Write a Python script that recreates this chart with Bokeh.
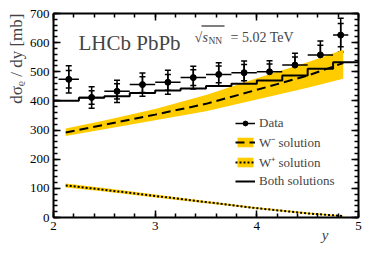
import numpy as np
from math import pi
from bokeh.plotting import figure
from bokeh.models import (ColumnDataSource, Whisker, TeeHead, Legend, LegendItem, Label, Title,
                          LinearAxis, Range1d, BoxAnnotation, SingleIntervalTicker,
                          CustomJSTickFormatter)
from bokeh.embed import file_html
from bokeh.resources import INLINE

# ---- data ----
rap_center = [2.15, 2.375, 2.625, 2.875, 3.125, 3.375, 3.625, 3.875, 4.125, 4.375, 4.625, 4.825]
rap_lo = [2.05, 2.25, 2.5, 2.75, 3.0, 3.25, 3.5, 3.75, 4.0, 4.25, 4.5, 4.75]
rap_hi = [2.25, 2.5, 2.75, 3.0, 3.25, 3.5, 3.75, 4.0, 4.25, 4.5, 4.75, 4.9]
xsec = [474, 412, 433, 456, 464, 480, 491, 497, 500, 523, 558, 626]
stat_err = [30, 23, 26, 27, 27, 27, 29, 28, 27, 28, 33, 40]
tot_err = [47, 37, 38, 40, 41, 39, 40, 40, 38, 41, 48, 58]

hist_edges = [2.0, 2.25, 2.5, 2.75, 3.0, 3.25, 3.5, 3.75, 4.0, 4.25, 4.5, 4.75, 5.0]
both_sol = [401, 411, 416, 427, 436, 443, 451, 459, 470, 487, 510, 533]

model_rap = [2.12, 2.5, 3.0, 3.5, 4.0, 4.5, 4.85]
wminus_c = [292, 318, 353, 390, 438, 487, 530]
wminus_hi = [305, 333, 372, 420, 478, 533, 576]
wminus_lo = [280, 303, 334, 365, 405, 445, 476]
wplus_c = [110, 95, 74, 53, 32, 14, 5]
wplus_hi = [117, 101, 79, 57, 35, 17, 7]
wplus_lo = [103, 89, 69, 49, 29, 11, 3]

YELLOW = "#FFCC00"
FONT = "Liberation Serif"

p = figure(width=370, height=250, x_range=Range1d(2, 5), y_range=Range1d(0, 700),
           output_backend="svg", toolbar_location=None,
           min_border_left=53, min_border_right=12, min_border_top=13, min_border_bottom=33)
p.grid.visible = False
p.outline_line_color = None
p.background_fill_color = "white"
p.border_fill_color = "white"

bottom_ax = p.below[0]
left_ax = p.left[0]
top_ax = LinearAxis()
right_ax = LinearAxis()
p.add_layout(top_ax, "above")
p.add_layout(right_ax, "right")

for ax in [bottom_ax, top_ax]:
    ax.ticker = SingleIntervalTicker(interval=1, num_minor_ticks=5)
for ax in [left_ax, right_ax]:
    ax.ticker = SingleIntervalTicker(interval=100, num_minor_ticks=5)

for ax in [bottom_ax, left_ax, top_ax, right_ax]:
    ax.axis_line_width = 2
    ax.axis_line_color = "black"
    ax.major_tick_in = 7
    ax.major_tick_out = 0
    ax.minor_tick_in = 4
    ax.minor_tick_out = 0
    ax.major_tick_line_width = 1.5
    ax.minor_tick_line_width = 1.5
    ax.major_tick_line_color = "black"
    ax.minor_tick_line_color = "black"
    ax.major_label_text_font = FONT
    ax.major_label_text_font_size = "13px"
    ax.major_label_text_color = "black"
    ax.major_label_standoff = 4
for ax in [top_ax, right_ax]:
    ax.formatter = CustomJSTickFormatter(code="return ''")
    ax.major_label_standoff = 0

# W- band and line
r_wm_band = p.varea(x=model_rap, y1=wminus_lo, y2=wminus_hi, fill_color=YELLOW)
r_wm_line = p.line(model_rap, wminus_c, line_color="black", line_width=2, line_dash="9 5")
# W+ band and line
r_wp_band = p.varea(x=model_rap, y1=wplus_lo, y2=wplus_hi, fill_color=YELLOW)
r_wp_line = p.line(model_rap, wplus_c, line_color="black", line_width=2, line_dash="2 2")

# Both solutions histogram
r_both = p.step(x=hist_edges, y=both_sol + [both_sol[-1]], mode="after",
                line_color="black", line_width=2)

# Data
src = ColumnDataSource(dict(
    x=rap_center, y=xsec, lo=rap_lo, hi=rap_hi,
    su=np.array(xsec) + np.array(stat_err), sl=np.array(xsec) - np.array(stat_err),
    tu=np.array(xsec) + np.array(tot_err), tl=np.array(xsec) - np.array(tot_err)))
r_hbar = p.segment(x0="lo", y0="y", x1="hi", y1="y", source=src, line_color="black", line_width=1.5)
p.add_layout(Whisker(source=src, base="x", upper="tu", lower="tl", line_width=1.5,
                     upper_head=TeeHead(size=6, line_width=1.5),
                     lower_head=TeeHead(size=6, line_width=1.5)))
p.add_layout(Whisker(source=src, base="x", upper="su", lower="sl", line_width=1.5,
                     upper_head=TeeHead(size=6, line_width=1.5),
                     lower_head=TeeHead(size=6, line_width=1.5)))
r_pts = p.scatter(x="x", y="y", source=src, size=6, color="black")

legend = Legend(items=[
    LegendItem(label="Data", renderers=[r_hbar, r_pts]),
    LegendItem(label="W\u207b solution", renderers=[r_wm_band, r_wm_line]),
    LegendItem(label="W\u207a solution", renderers=[r_wp_band, r_wp_line]),
    LegendItem(label="Both solutions", renderers=[r_both]),
], location=(182, 28), padding=0, margin=0, spacing=2, glyph_width=20, glyph_height=12,
    label_height=12, label_standoff=4, label_text_font=FONT, label_text_font_size="13px",
    border_line_alpha=0, background_fill_alpha=0)
p.add_layout(legend)

# texts inside the frame (screen units relative to the plot frame)
def lab(x, y, text, size, style="normal"):
    p.add_layout(Label(x=x, y=y, x_units="screen", y_units="screen", text=text,
                       text_font=FONT, text_font_size=size, text_font_style=style,
                       text_baseline="alphabetic", text_align="left"))

lab(25, 175, "LHCb PbPb", "21px")
lab(141, 180, "\u221a", "14px")
lab(149, 180, "s", "14px", "italic")
lab(155, 177, "NN", "9.5px")
lab(177, 180, "= 5.02 TeV", "14px")
p.add_layout(BoxAnnotation(left=148, right=171, bottom=191, top=192, left_units="screen",
                           right_units="screen", top_units="screen", bottom_units="screen",
                           fill_color="black", fill_alpha=1, line_alpha=0))

# axis titles
p.add_layout(Title(text="d\u03c3\u1d68 / dy [mb]", align="right", text_font=FONT,
                   text_font_size="17px", text_font_style="normal", standoff=2, offset=0), "left")
p.add_layout(Title(text="y", align="right", text_font=FONT, text_font_size="15px",
                   text_font_style="italic", standoff=-16, offset=30), "below")

open("out.html", "w").write(file_html(p, INLINE))
